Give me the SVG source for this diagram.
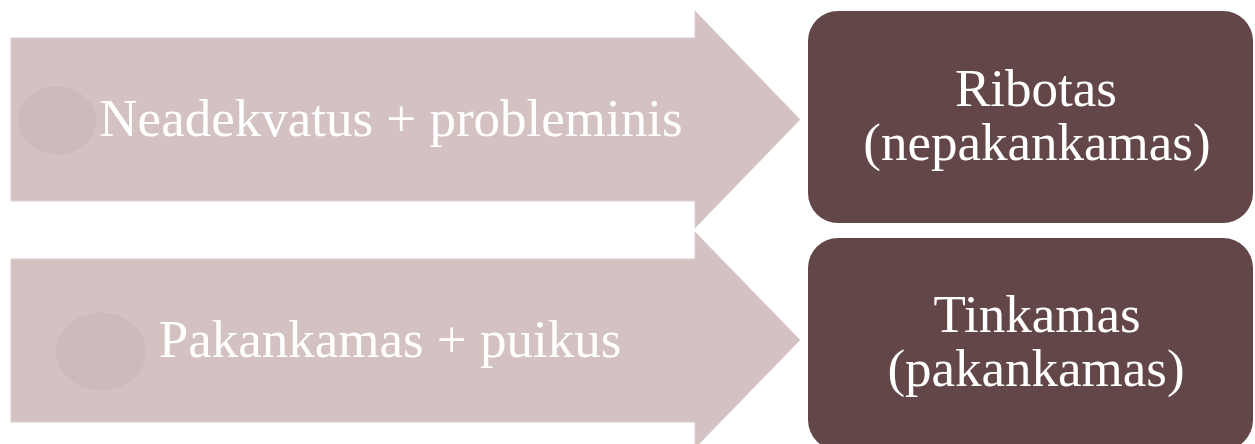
<svg xmlns="http://www.w3.org/2000/svg" width="1255" height="444" viewBox="0 0 1255 444">
<style>
.arrow{fill:#d4c1c2;stroke:#dccfd0;stroke-width:1}
.dot{fill:#cdbabb}
.box{fill:#634748}
.t{font-family:"Liberation Serif","Times New Roman",serif;font-size:53px;fill:#ffffff;text-anchor:middle}
</style>
<rect width="1255" height="444" fill="#ffffff"/>
<g id="arrow1">
<path class="arrow" d="M11,38 H695 V11 L800,119.5 L695,228 V201 H11 Z"/>
<ellipse class="dot" cx="57" cy="120.5" rx="39" ry="34"/>
<text class="t" x="391" y="136">Neadekvatus + probleminis</text>
</g>
<g id="arrow2">
<path class="arrow" d="M11,259 H695 V232 L800,340 L695,448 V422 H11 Z"/>
<ellipse class="dot" cx="101" cy="351.5" rx="45" ry="39"/>
<text class="t" x="390" y="357">Pakankamas + puikus</text>
</g>
<g id="box1">
<rect class="box" x="808" y="11" width="445" height="212" rx="30" ry="30"/>
<text class="t" x="1036" y="106">Ribotas</text>
<text class="t" x="1037" y="160">(nepakankamas)</text>
</g>
<g id="box2">
<rect class="box" x="808" y="238" width="445" height="212" rx="30" ry="30"/>
<text class="t" x="1037" y="332">Tinkamas</text>
<text class="t" x="1036" y="386">(pakankamas)</text>
</g>
<g id="connectors"></g>
</svg>
